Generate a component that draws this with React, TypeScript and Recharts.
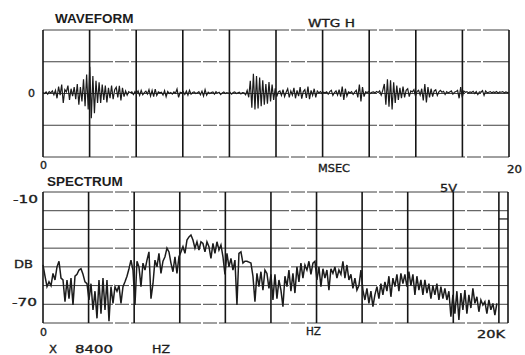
import { LineChart, Line, XAxis, YAxis, ReferenceLine } from 'recharts';

// time record, 300 samples across 0..20 ms (amplitude in grid divisions)
const WAVEFORM = [
  0.03, 0.0, 0.05, -0.02, 0.06, 0.02, 0.08, -0.04,
  0.1, -0.15, 0.22, -0.05, 0.28, -0.3, 0.12, 0.05, 0.25, -0.2, 0.15, -0.08, 0.2,
  -0.18, 0.3, -0.35, 0.2, -0.25, 0.45, -0.4, 0.6, -0.5, 0.84, -0.78, 0.55, -0.62, 0.4, -0.3, 0.35,
  -0.3, 0.28, -0.2, 0.25, -0.28, 0.18, -0.15, 0.25, -0.18, 0.12, 0.2, -0.12, 0.24, -0.22, 0.18, -0.1, 0.08, -0.05, 0.06,
  0.02, 0.05, -0.03, 0.06, 0.0, 0.08, -0.06, 0.1, -0.04, 0.03, 0.07, -0.02, 0.12, -0.08, 0.1, -0.1, 0.14, -0.06, 0.05, 0.02,
  0.04, -0.05, 0.09, -0.1, 0.06, 0.0, 0.03, -0.02, 0.05, 0.01, 0.14, -0.12, 0.04, 0.02, 0.06, -0.03, 0.08, -0.05, 0.1, -0.02,
  0.03, 0.05, 0.0, 0.02, 0.06, -0.04, 0.07, -0.08, 0.12, -0.05, 0.04, 0.0, 0.03, 0.05, -0.02, 0.06, 0.01, 0.04, -0.03, 0.02,
  0.05, 0.0, 0.03, 0.01, 0.04, -0.02, 0.03, 0.05, 0.0, 0.02, 0.04, -0.01, 0.03, 0.02,
  -0.04, 0.1, -0.12,
  0.4, -0.45, 0.62, -0.5, 0.55, -0.47, 0.5, -0.4, 0.42, -0.35, 0.3, -0.32, 0.36, -0.25, 0.28, -0.2, 0.16, -0.1,
  0.05, 0.08, -0.06, 0.12, -0.1, 0.04, 0.15, -0.12, 0.08, -0.05, 0.18, -0.15, 0.1, -0.08, 0.2, -0.16, 0.06, 0.12, -0.14, 0.22,
  -0.18, 0.1, -0.06, 0.15, -0.12, 0.08, 0.02, 0.06, 0.0, 0.04, 0.02, 0.05, -0.02, 0.06, 0.1, -0.06, 0.03, 0.08, -0.05, 0.12,
  -0.1, 0.22, -0.2, 0.15,
  -0.08, 0.05, 0.02, 0.06, -0.03, 0.04, 0.1, -0.12, 0.28, -0.25, 0.2, -0.1, 0.05, 0.03, 0.06, 0.0, 0.04, 0.05, 0.02, 0.06, 0.03, 0.08, -0.05, 0.1,
  0.3, -0.35, 0.45, -0.42, 0.42, -0.5, 0.35, -0.3,
  0.25, -0.2, 0.18, -0.15, 0.22, -0.12, 0.1, 0.15, -0.1, 0.08, 0.05, 0.12, -0.08, 0.06, 0.1, -0.05,
  0.15, -0.22, 0.3, -0.28, 0.2, -0.12, 0.15, -0.1, 0.08, 0.12, -0.06, 0.05, 0.1,
  0.04, 0.07, -0.03, 0.06, 0.02, 0.05, 0.08, -0.02, 0.04, 0.06, 0.1, -0.15, 0.2, -0.12, 0.08, 0.04, 0.06, 0.02, 0.05, 0.03,
  0.07, 0.0, 0.06, -0.03, 0.05, 0.04, 0.09, -0.06, 0.08, 0.02, 0.04, 0.06, 0.02, 0.05, 0.03, 0.06, 0.01, 0.05, 0.04, 0.06,
  0.02, 0.05, 0.03, 0.04,
];

// spectrum bins in dB, 20 kHz / 228 bins apart
const SPECTRUM_DB = [
  -49, -55, -60.6, -58, -60, -53.5, -57, -50, -47, -56,
  -57, -68.6, -57, -67, -56, -70.4, -55, -54, -51.7, -51,
  -54, -58, -59, -67.7, -59, -73, -63, -77.5, -57, -75,
  -56, -73, -57, -79, -60.6, -69.5, -60.6, -63, -60, -69.5,
  -60.6, -58, -55, -51, -46.4, -51.7, -70.4, -47, -50, -60.6,
  -48, -51.7, -46.4, -42, -67, -59, -46.4, -50, -42.8, -53.5,
  -47, -44.6, -40, -42, -48, -52.6, -44.6, -53.5, -44.6, -42,
  -39.2, -42.8, -35.7, -34, -33, -35.7, -40, -36.6, -41, -36.6,
  -37.5, -42, -36.6, -39.2, -45.5, -37.5, -42.8, -36.6, -41, -38.3,
  -44.6, -54, -42.8, -50, -45.5, -51.7, -46.4, -70.4, -42.8, -42,
  -48, -47, -47, -47.5, -48, -55, -68.6, -53.5, -60.6, -52.6,
  -62.4, -51.7, -53.5, -61.5, -54, -67.7, -54, -67, -57, -62.4,
  -71.3, -55, -60.6, -51.7, -63, -53.5, -64, -50, -58, -48,
  -56, -49, -51.7, -47, -54, -48, -47, -57, -50, -60.6,
  -51, -56, -51.7, -62.4, -51, -53.5, -50, -56, -51.7, -54,
  -47, -56, -49, -57, -54, -61.5, -56, -62.4, -60, -51.7,
  -62.4, -67.7, -61.5, -69.5, -63, -71.3, -65, -60.6, -67, -59,
  -65, -58, -63, -55, -66, -56, -60.6, -54, -63, -53.5,
  -59, -54, -60.6, -52.6, -60, -54, -65, -55, -62.4, -57,
  -65, -57, -64, -59, -67, -60, -65, -59, -67.7, -60.6,
  -67, -61.5, -67.7, -63, -76.6, -65, -75, -63, -78.4, -64,
  -73, -62.4, -75, -65, -72, -61.5, -69.5, -66, -74, -67.7,
  -70.4, -68.6, -75, -67.7, -73, -69.5, -75.8, -69.5,
];

const TIME_TICKS = [0, 2, 4, 6, 8, 10, 12, 14, 16, 18, 20];
const AMPL_TICKS = [-2, -1, 0, 1, 2];
const FREQ_TICKS = [0, 2, 4, 6, 8, 10, 12, 14, 16, 18, 20];
const DB_TICKS = [-10, -20, -30, -40, -50, -60, -70, -80];

const SWEEP_MS = 20;
const SPAN_KHZ = 20;
const SPECTRUM_BINS = 228;
const FREQ_MAX = 20.4; // room for the level bar right of 20K

const waveData = WAVEFORM.map((v, i) => ({ t: (i * SWEEP_MS) / (WAVEFORM.length - 1), v }));
const specData = SPECTRUM_DB.map((db, i) => ({ f: (i * SPAN_KHZ) / SPECTRUM_BINS, db }));

const INK = '#1c1c1c';
const vLine = { stroke: '#151515', strokeWidth: 1.6 };
const hLine = { stroke: '#404040', strokeWidth: 1, strokeDasharray: '70 2 14 2' };

// plotter lettering, a touch heavier than the book weight
const txt = { fontFamily: 'DejaVu Sans', fontSize: 11, fill: INK, stroke: INK, strokeWidth: 0.35 };
const title = { fontFamily: 'Liberation Sans', fontWeight: 700, fontSize: 13.5, fill: INK };

function Labels() {
  return (
    <svg width={525} height={355} style={{ position: 'absolute', left: 0, top: 0, pointerEvents: 'none' }}>
      <text x={55} y={23} {...title}>WAVEFORM</text>
      <text x={308} y={27} textLength={47} lengthAdjust="spacingAndGlyphs" {...txt}>WTG H</text>
      <text x={28} y={97} {...txt}>0</text>
      <text x={40} y={169} {...txt}>0</text>
      <text x={318} y={172} textLength={32} lengthAdjust="spacingAndGlyphs" {...txt}>MSEC</text>
      <text x={507} y={173} textLength={15} lengthAdjust="spacingAndGlyphs" {...txt}>20</text>

      <text x={47} y={186} {...title}>SPECTRUM</text>
      <text x={440} y={192} textLength={17} lengthAdjust="spacingAndGlyphs" {...txt}>5V</text>
      <text x={13} y={203} textLength={25} lengthAdjust="spacingAndGlyphs" {...txt}>-10</text>
      <text x={14} y={268} textLength={19} lengthAdjust="spacingAndGlyphs" {...txt}>DB</text>
      <text x={12} y={306} textLength={25} lengthAdjust="spacingAndGlyphs" {...txt}>-70</text>
      <text x={40} y={336} {...txt}>0</text>
      <text x={306} y={335} textLength={15} lengthAdjust="spacingAndGlyphs" {...txt}>HZ</text>
      <text x={477} y={338} textLength={28} lengthAdjust="spacingAndGlyphs" {...txt}>20K</text>
      <text x={49} y={353} textLength={8} lengthAdjust="spacingAndGlyphs" {...txt}>X</text>
      <text x={75} y={353} textLength={38} lengthAdjust="spacingAndGlyphs" {...txt}>8400</text>
      <text x={152} y={353} textLength={18} lengthAdjust="spacingAndGlyphs" {...txt}>HZ</text>
    </svg>
  );
}

export default function App() {
  return (
    <div style={{ position: 'absolute', left: 0, top: 0, width: 525, height: 355, background: '#fff', overflow: 'hidden' }}>
      <div style={{ position: 'absolute', left: 0, top: 0 }}>
        <LineChart width={525} height={175} data={waveData} margin={{ top: 30, right: 16, bottom: 18, left: 43 }}>
          <XAxis hide type="number" dataKey="t" domain={[0, SWEEP_MS]} />
          <YAxis hide type="number" domain={[-2, 2]} allowDataOverflow />
          {AMPL_TICKS.map((a) => (
            <ReferenceLine key={`a${a}`} y={a} {...hLine} />
          ))}
          {TIME_TICKS.map((t) => (
            <ReferenceLine key={`t${t}`} x={t} {...vLine} />
          ))}
          <Line type="linear" dataKey="v" stroke={INK} strokeWidth={1.2} dot={false} isAnimationActive={false} />
        </LineChart>
      </div>
      <div style={{ position: 'absolute', left: 0, top: 175 }}>
        <LineChart width={525} height={180} data={specData} margin={{ top: 17, right: 17, bottom: 32, left: 43 }}>
          <XAxis hide type="number" dataKey="f" domain={[0, FREQ_MAX]} />
          <YAxis hide type="number" domain={[-80, -10]} allowDataOverflow />
          {DB_TICKS.map((d) => (
            <ReferenceLine key={`d${d}`} y={d} {...hLine} />
          ))}
          {FREQ_TICKS.map((f) => (
            <ReferenceLine key={`f${f}`} x={f} {...vLine} />
          ))}
          <ReferenceLine x={FREQ_MAX} {...vLine} />
          <ReferenceLine
            segment={[{ x: SPAN_KHZ, y: -24.4 }, { x: FREQ_MAX, y: -24.4 }]}
            stroke="#151515"
            strokeWidth={1.2}
          />
          <Line type="linear" dataKey="db" stroke={INK} strokeWidth={1.5} dot={false} isAnimationActive={false} />
        </LineChart>
      </div>
      <Labels />
    </div>
  );
}
